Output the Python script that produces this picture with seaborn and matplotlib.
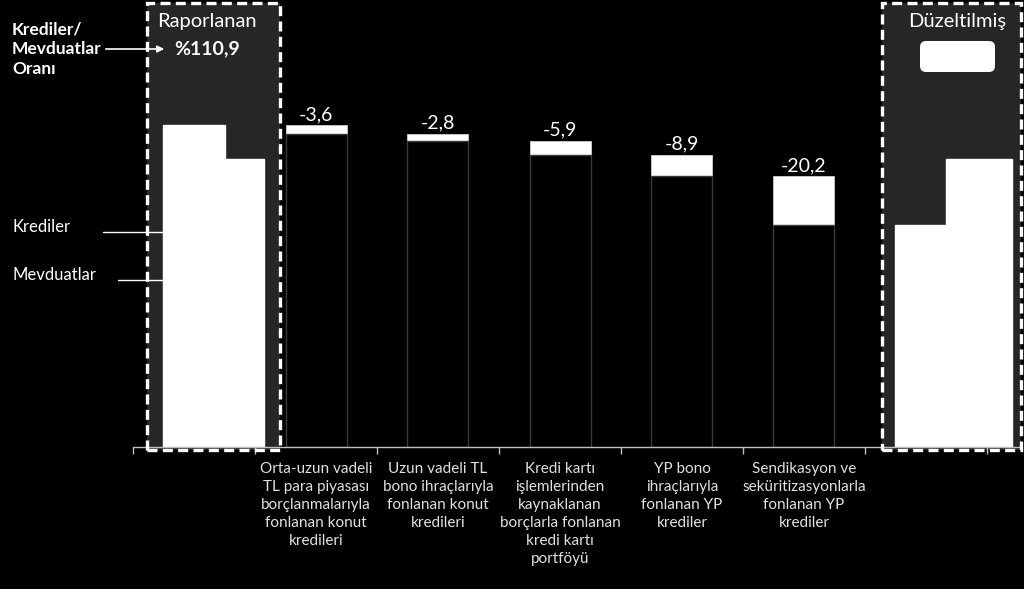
import numpy as np
import pandas as pd
import matplotlib
matplotlib.use("Agg")
import matplotlib.pyplot as plt
import matplotlib.patches as mpatches
import matplotlib.transforms as mtransforms
import seaborn as sns

# ---------------- data ----------------
step_labels = [
    "Orta-uzun vadeli\nTL para piyasası\nborçlanmalarıyla\nfonlanan konut\nkredileri",
    "Uzun vadeli TL\nbono ihraçlarıyla\nfonlanan konut\nkredileri",
    "Kredi kartı\nişlemlerinden\nkaynaklanan\nborçlarla fonlanan\nkredi kartı\nportföyü",
    "YP bono\nihraçlarıyla\nfonlanan YP\nkrediler",
    "Sendikasyon ve\nseküritizasyonlarla\nfonlanan YP\nkrediler",
]
step_values = [-3.6, -2.8, -5.9, -8.9, -20.2]
krediler_reported = 133.3
mevduatlar_reported = 119.3
ratio_text = "%110,9"
title_left = "Raporlanan"
title_right = "Düzeltilmiş"
series_names = ["Krediler", "Mevduatlar"]

# derived waterfall
tops = krediler_reported + np.concatenate([[0], np.cumsum(step_values)[:-1]])
bottoms = tops + np.array(step_values)
krediler_adjusted = krediler_reported + sum(step_values)

# ---------------- style ----------------
sns.set_theme(style="dark")
plt.rcParams["font.family"] = ["Lato", "DejaVu Sans"]
BG = "black"
BOX = "#262626"
TXT = "white"

W, H = 1024, 589
fig = plt.figure(figsize=(W / 100, H / 100), dpi=100, facecolor=BG)
PXU = 2.415  # pixels per value unit
x0_px, base_px, cat_px = 133, 447, 122
ax = fig.add_axes([x0_px / W, (H - base_px) / H, (1020 - x0_px) / W, base_px / H])
ax.set_facecolor("none")
ax.set_zorder(1)

# pixel -> figure transform (origin top-left)
px = mtransforms.Affine2D().scale(1 / W, -1 / H).translate(0, 1) + fig.transFigure

# dashed boxes (background for reported / adjusted)
for (l, r) in [(147, 280), (882, 1021)]:
    fig.patches.append(mpatches.Rectangle((l, 450), r - l, -447, transform=px,
                                          facecolor=BOX, edgecolor="none", zorder=-2))

# waterfall: white full bars, black base bars with grey edges
centers = np.arange(1, 1 + len(step_values)) + 0.5
df = pd.DataFrame({"x": centers, "top": tops, "bottom": bottoms})
sns.barplot(data=df, x="x", y="top", native_scale=True, width=0.5, color="white",
            saturation=1, errorbar=None, edgecolor="#d0d0d0", linewidth=0.6, ax=ax, zorder=2)
sns.barplot(data=df, x="x", y="bottom", native_scale=True, width=0.5, color="black",
            saturation=1, errorbar=None, edgecolor="#3a3a3a", linewidth=1.0, ax=ax, zorder=3)

# reported and adjusted columns
ax.bar(0.246, krediler_reported, width=0.508, align="edge", color="white", zorder=2)
ax.bar(0.754, mevduatlar_reported, width=0.32, align="edge", color="white", zorder=2)
ax.bar(6.246, krediler_adjusted, width=0.508, align="edge", color="white", zorder=2)
ax.bar(6.664, mevduatlar_reported, width=0.54, align="edge", color="white", zorder=3)

# value labels
for c, t, v in zip(centers, tops, step_values):
    ax.annotate(f"{v:.1f}".replace(".", ","), (c, t), xytext=(0, 1.5),
                textcoords="offset points", ha="center", va="bottom",
                color=TXT, fontsize=14)

# axes
ax.set_xlim(0, (1020 - x0_px) / cat_px)
ax.set_ylim(0, base_px / PXU)
ax.set_xlabel("")
ax.set_ylabel("")
ax.set_yticks([])
ax.set_xticks(np.arange(0, 8))
ax.set_xticklabels([])
ax.set_xticks(centers, minor=True)
ax.set_xticklabels(step_labels, minor=True, color="#e0e0e0", fontsize=11,
                   linespacing=1.36)
ax.tick_params(axis="x", which="major", direction="out", length=5, width=1,
               color="#bfbfbf", bottom=True)
ax.tick_params(axis="x", which="minor", length=0, pad=11)
for s in ["top", "right", "left"]:
    ax.spines[s].set_visible(False)
ax.spines["bottom"].set_color("#bfbfbf")
ax.spines["bottom"].set_linewidth(1)
ax.spines["bottom"].set_zorder(5)
ax.grid(False)

# dashed outlines drawn above the bars
for (l, r) in [(147, 280), (882, 1021)]:
    fig.patches.append(mpatches.Rectangle((l, 450), r - l, -447, transform=px,
                                          facecolor="none", edgecolor="white", lw=2.4,
                                          linestyle=(0, (3, 1.6)), zorder=3))

# titles
fig.text(207, 22, title_left, transform=px, ha="center", va="center", color=TXT, fontsize=14.5)
fig.text(957, 22, title_right, transform=px, ha="center", va="center", color=TXT, fontsize=14.5)

# ratio annotation
fig.text(12, 49, "Krediler/\nMevduatlar\nOranı", transform=px, ha="left", va="center",
         color=TXT, fontsize=12.5, fontweight="bold", linespacing=1.3)
fig.text(174, 49, ratio_text, transform=px, ha="left", va="center", color=TXT,
         fontsize=14, fontweight="bold")
fig.patches.append(mpatches.FancyArrowPatch((103, 49), (167, 49), transform=px,
                                            arrowstyle="-|>", mutation_scale=10,
                                            color="white", lw=1.2, zorder=4))
fig.patches.append(mpatches.FancyBboxPatch((924, 45), 67, 23, transform=px,
                                           boxstyle="round,pad=4,rounding_size=6",
                                           facecolor="white", edgecolor="none", zorder=4))

# series labels with leader lines
fig.text(12, 227, series_names[0], transform=px, ha="left", va="center", color=TXT, fontsize=12)
fig.text(12, 275, series_names[1], transform=px, ha="left", va="center", color=TXT, fontsize=12)
fig.lines.append(plt.Line2D([103, 163], [232, 232], transform=px, color="white", lw=1, zorder=4))
fig.lines.append(plt.Line2D([118, 163], [280, 280], transform=px, color="white", lw=1, zorder=4))

fig.savefig("out.png", dpi=100, facecolor=BG)
